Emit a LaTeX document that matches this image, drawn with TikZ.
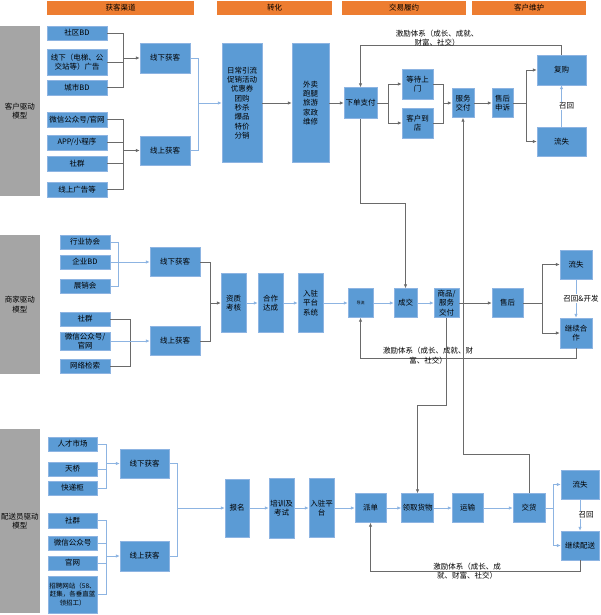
\documentclass[tikz,border=0pt]{standalone}
\usepackage{fontspec}
\setmainfont{Noto Sans CJK SC}
\usepackage{xcolor}
\usepackage{tikz}
\usetikzlibrary{arrows.meta, calc}

\definecolor{boxblue}{HTML}{5B9BD5}
\definecolor{boxedge}{HTML}{8DB4E2}
\definecolor{sidegray}{HTML}{A5A5A5}
\definecolor{headorange}{HTML}{ED7D31}
\definecolor{linegray}{HTML}{6A6A6A}
\definecolor{lineblue}{HTML}{8DB4E2}
\newcommand{\boxfont}{\fontsize{7.5}{9.3}\selectfont}
\newcommand{\tinyfont}{\fontsize{4}{5}\selectfont}

\begin{document}
\begin{tikzpicture}[x=1pt,y=-1pt,
  >={Latex[length=4pt,width=3.5pt]},
  box/.style={draw=boxedge,fill=boxblue,inner sep=1pt,font=\boxfont,align=center},
  sz/.style 2 args={minimum width=#1pt,minimum height=#2pt},
  side/.style={fill=sidegray,inner sep=1pt,font=\boxfont,align=center},
  head/.style={fill=headorange,inner sep=0pt,font=\boxfont},
  dk/.style={draw=linegray,line width=0.8pt},
  lt/.style={draw=lineblue,line width=0.8pt},
  lbl/.style={inner sep=1pt,font=\boxfont,align=center},
]
\useasboundingbox (0,0) rectangle (600,615);

% headers
\node[head,sz={147}{14}] (h1) at (120.5,8) {获客渠道};
\node[head,sz={115}{14}] (h2) at (274.5,8) {转化};
\node[head,sz={124}{14}] (h3) at (404,8) {交易履约};
\node[head,sz={114}{14}] (h4) at (529,8) {客户维护};

% --- customer model
\node[side,sz={40}{170}] (g1) at (20,111) {客户驱动\\模型};
\node[box,sz={60}{14}] (c1) at (77,33) {社区BD};
\node[box,sz={60}{26}] (c2) at (77,62) {线下（电梯、公\\交站等）广告};
\node[box,sz={60}{15}] (c3) at (77,87.5) {城市BD};
\node[box,sz={60}{15}] (c4) at (77,119.5) {微信公众号/官网};
\node[box,sz={60}{15}] (c5) at (77,142.5) {APP/小程序};
\node[box,sz={60}{15}] (c6) at (77,163.5) {社群};
\node[box,sz={60}{15}] (c7) at (77,189.5) {线上广告等};
\node[box,sz={50}{30}] (off1) at (165,58) {线下获客};
\node[box,sz={50}{29}] (on1) at (165,150.5) {线上获客};
\node[box,sz={40}{119}] (conv) at (242,103) {日常引流\\促销活动\\优惠券\\团购\\秒杀\\爆品\\特价\\分销};
\node[box,sz={37}{119}] (biz) at (310.5,103) {外卖\\跑腿\\旅游\\家政\\维修};
\node[box,sz={33}{31}] (pay) at (360.5,103) {下单支付};
\node[box,sz={31}{30}] (wait) at (417.5,84) {等待上\\门};
\node[box,sz={31}{30}] (shop) at (417.5,123) {客户到\\店};
\node[box,sz={22}{29}] (deliv) at (463,103) {服务\\交付};
\node[box,sz={21}{29}] (after) at (502.5,103) {售后\\申诉};
\node[box,sz={49}{30}] (rebuy) at (561.5,70) {复购};
\node[box,sz={49}{29}] (lost1) at (561.5,141.5) {流失};

\coordinate (b1) at (123,58);
\coordinate (b2) at (123,150.5);
\coordinate (b3) at (198,103);
\coordinate (b4) at (388,103);
\coordinate (b5) at (443,103);
\coordinate (b6) at (526,103);
\coordinate (f1) at (360.5,45);

\draw[dk] (c1) -| (b1);
\draw[dk] (c3) -| (b1);
\draw[dk] (c2) -- (c2 -| b1);
\draw[dk,->] (b1) -- (off1);
\draw[dk] (c4) -| (b2);
\draw[dk] (c7) -| (b2);
\draw[dk] (c5) -- (c5 -| b2);
\draw[dk] (c6) -- (c6 -| b2);
\draw[dk,->] (b2) -- (on1);
\draw[lt] (off1) -| (b3);
\draw[lt] (on1) -| (b3);
\draw[lt,->] (b3) -- (conv);
\draw[dk,->] (conv) -- (biz);
\draw[dk,->] (biz) -- (pay);
\draw[dk] (pay) -- (b4);
\draw[dk,->] (b4) |- (wait);
\draw[dk,->] (b4) |- (shop);
\draw[dk] (wait) -| (b5);
\draw[dk] (shop) -| (b5);
\draw[dk,->] (b5) -- (deliv);
\draw[dk,->] (deliv) -- (after);
\draw[dk] (after) -- (b6);
\draw[dk,->] (b6) |- (rebuy);
\draw[dk,->] (b6) |- (lost1);
\draw[lt,->] (lost1) -- node[lbl,fill=white,xshift=5pt] {召回} (rebuy);
\draw[dk,->] (rebuy.north) |- (f1) -- (pay.north);
\node[lbl] (fb1) at (437,38) {激励体系（成长、成就、\\财富、社交）};

% --- merchant model
\node[side,sz={40}{139}] (g2) at (20,304.5) {商家驱动\\模型};
\node[box,sz={50}{14}] (m1) at (85,242) {行业协会};
\node[box,sz={50}{14}] (m2) at (85,262) {企业BD};
\node[box,sz={50}{14}] (m3) at (85,286) {展销会};
\node[box,sz={50}{14}] (m4) at (85,319) {社群};
\node[box,sz={50}{15}] (m5) at (85,341) {微信公众号/\\官网};
\node[box,sz={50}{14}] (m6) at (85,366) {网络检索};
\node[box,sz={50}{29}] (off2) at (175,262) {线下获客};
\node[box,sz={50}{29}] (on2) at (175,341) {线上获客};
\node[box,sz={25}{59}] (qual) at (233.5,303) {资质\\考核};
\node[box,sz={25}{59}] (coop) at (270.5,303) {合作\\达成};
\node[box,sz={25}{59}] (plat2) at (310.5,303) {入驻\\平台\\系统};
\node[box,sz={25}{29},font=\tinyfont] (guide) at (360.5,303) {导流};
\node[box,sz={23}{29}] (deal) at (405.5,303) {成交};
\node[box,sz={25}{29}] (goods) at (446.5,303) {商品/\\服务\\交付};
\node[box,sz={31}{29}] (svc2) at (507.5,303) {售后};
\node[box,sz={32}{29}] (lost2) at (576,264.5) {流失};
\node[box,sz={32}{30}] (cont2) at (576,333) {继续合\\作};

\coordinate (mb1) at (118,262);
\coordinate (mb2) at (130,341);
\coordinate (mb3) at (210,303);
\coordinate (mb4) at (542,303);

\draw[lt] (m1) -| (mb1);
\draw[lt] (m3) -| (mb1);
\draw[lt,->] (m2) -- (off2);
\draw[dk] (m4) -| (mb2);
\draw[dk] (m6) -| (mb2);
\draw[lt,->] (m5) -- (on2);
\draw[dk] (off2) -| (mb3);
\draw[dk] (on2) -| (mb3);
\draw[dk,->] (mb3) -- (qual);
\draw[lt,->] (qual) -- (coop);
\draw[lt,->] (coop) -- (plat2);
\draw[lt,->] (plat2) -- (guide);
\draw[lt,->] (guide) -- (deal);
\draw[lt,->] (deal) -- (goods);
\draw[dk,->] (goods) -- (svc2);
\draw[dk] (svc2) -- (mb4);
\draw[dk,->] (mb4) |- (lost2);
\draw[dk,->] (mb4) |- (cont2);
\draw[lt,->] (lost2) -- node[lbl,fill=white,xshift=5pt] {召回\&开发} (cont2);
\draw[dk,->] (cont2.south) -- ++(0,10) -| (guide.south);
\node[lbl] (fb2) at (428,355.5) {激励体系（成长、成就、财\\富、社交）};

% --- courier model
\node[side,sz={40}{184}] (g3) at (20,521) {配送员驱动\\模型};
\node[box,sz={49}{14}] (r1) at (72.5,444) {人才市场};
\node[box,sz={49}{14}] (r2) at (72.5,469) {天桥};
\node[box,sz={49}{14}] (r3) at (72.5,488) {快递柜};
\node[box,sz={49}{15}] (r4) at (72.5,520.5) {社群};
\node[box,sz={49}{14}] (r5) at (72.5,543) {微信公众号};
\node[box,sz={49}{14}] (r6) at (72.5,563) {官网};
\node[box,sz={49}{37},font=\fontsize{6.5}{8.5}\selectfont] (r7) at (72.5,594.5) {招聘网站（58、\\赶集，各垂直蓝\\领招工）};
\node[box,sz={49}{29}] (off3) at (144.5,463.5) {线下获客};
\node[box,sz={49}{30}] (on3) at (144.5,556) {线上获客};
\node[box,sz={24}{58}] (sign) at (237,508) {报名};
\node[box,sz={25}{60}] (train) at (281.5,508) {培训及\\考试};
\node[box,sz={25}{59}] (plat3) at (321.5,508) {入驻平\\台};
\node[box,sz={31}{29}] (disp) at (370.5,508) {派单};
\node[box,sz={31}{29}] (pick) at (417.5,508) {领取货物};
\node[box,sz={31}{29}] (trans) at (467.5,508) {运输};
\node[box,sz={32}{29}] (hand) at (529,508) {交货};
\node[box,sz={38}{29}] (lost3) at (580,484.5) {流失};
\node[box,sz={38}{29}] (cont3) at (580,545.5) {继续配送};

\coordinate (rb1) at (106,463.5);
\coordinate (rb2) at (106,556);
\coordinate (rb3) at (177,508);
\coordinate (rb4) at (553,508);

\draw[lt] (r1) -| (rb1);
\draw[lt] (r3) -| (rb1);
\draw[lt] (r2) -- (r2 -| rb1);
\draw[lt,->] (rb1) -- (off3);
\draw[lt] (r4) -| (rb2);
\draw[lt] (r7) -| (rb2);
\draw[lt] (r5) -- (r5 -| rb2);
\draw[lt] (r6) -- (r6 -| rb2);
\draw[lt,->] (rb2) -- (on3);
\draw[lt] (off3) -| (rb3);
\draw[lt] (on3) -| (rb3);
\draw[lt,->] (rb3) -- (sign);
\draw[lt,->] (sign) -- (train);
\draw[lt,->] (train) -- (plat3);
\draw[lt,->] (plat3) -- (disp);
\draw[lt,->] (disp) -- (pick);
\draw[lt,->] (pick) -- (trans);
\draw[lt,->] (trans) -- (hand);
\draw[lt] (hand) -- (rb4);
\draw[lt,->] (rb4) |- (lost3);
\draw[lt,->] (rb4) |- (cont3);
\draw[lt,->] (lost3) -- node[lbl,fill=white,xshift=6pt] {召回} (cont3);
\draw[dk,->] (cont3.south) -- ++(0,11) -| (disp.south);
\node[lbl] (fb3) at (467,571) {激励体系（成长、成\\就、财富、社交）};

% links between the models
\draw[dk,->] (pay.south) -- ++(0,85) -| (deal.north);
\draw[dk,->] (goods.south) -- ++(0,88) -| (pick.north);
\draw[dk,->] (hand.north) -- ++(0,-39) -| (deliv.south);
\end{tikzpicture}
\end{document}
